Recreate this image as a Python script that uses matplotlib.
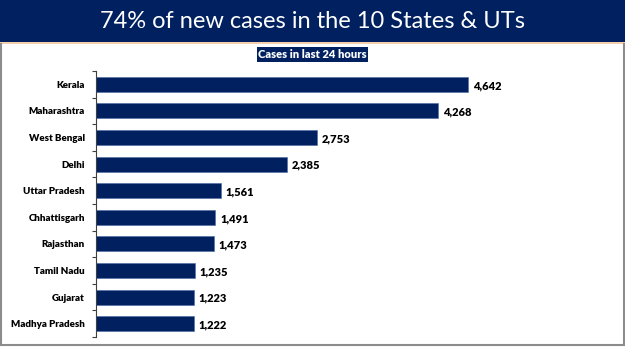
import matplotlib
matplotlib.use("Agg")
import matplotlib.pyplot as plt
from matplotlib.patches import Rectangle
from matplotlib.lines import Line2D
import numpy as np

states = ["Kerala", "Maharashtra", "West Bengal", "Delhi", "Uttar Pradesh",
          "Chhattisgarh", "Rajasthan", "Tamil Nadu", "Gujarat", "Madhya Pradesh"]
cases = [4642, 4268, 2753, 2385, 1561, 1491, 1473, 1235, 1223, 1222]
title = "74% of new cases in the 10 States & UTs"
subtitle = "Cases in last 24 hours"

NAVY = "#002060"
W, H = 625, 351
fig = plt.figure(figsize=(W / 100, H / 100), dpi=100)
fig.patch.set_facecolor("white")

# Title banner
fig.add_artist(Rectangle((0, 1 - 42 / H), 1, 42 / H, transform=fig.transFigure,
                         facecolor=NAVY, edgecolor="none", zorder=0))
fig.add_artist(Line2D([0, 1], [1 - 43 / H, 1 - 43 / H], transform=fig.transFigure,
                      color="#f4c7a0", lw=1.2))
fig.text(0.5, 1 - 21 / H, title, color="white", fontsize=17, family="Lato",
         ha="center", va="center")

# Border frame
fig.add_artist(Line2D([1 / W, 1 / W], [1 - 44 / H, 1 - 345 / H], transform=fig.transFigure,
                      color="#8c8c8c", lw=1.5))
fig.add_artist(Line2D([623.5 / W, 623.5 / W], [1 - 44 / H, 1 - 345 / H], transform=fig.transFigure,
                      color="#8c8c8c", lw=1.5))
fig.add_artist(Line2D([1 / W, 623.5 / W], [1 - 345 / H, 1 - 345 / H], transform=fig.transFigure,
                      color="#8c8c8c", lw=1.5))

# Subtitle box
fig.add_artist(Rectangle((257 / W, 1 - 62 / H), 111 / W, 15 / H, transform=fig.transFigure,
                         facecolor=NAVY, edgecolor="none"))
fig.text(312.5 / W, 1 - 54.5 / H, subtitle, color="white", fontsize=8, family="Lato",
         fontweight="heavy", ha="center", va="center")

# Axes
ax_left, ax_top, ax_bottom = 96, 71, 337
xmax = 5800
ax_w = xmax * (372 / 4642)
ax = fig.add_axes([ax_left / W, 1 - ax_bottom / H, ax_w / W, (ax_bottom - ax_top) / H])
y = np.arange(len(states))
ax.barh(y, cases, height=0.56, color=NAVY, edgecolor="#4a6aa5", linewidth=0.4)
ax.set_ylim(len(states) - 0.5, -0.5)
ax.set_xlim(0, xmax)
for yi, v in zip(y, cases):
    ax.text(v + 60, yi + 0.05, f"{v:,}", va="center", ha="left", fontsize=8,
            fontweight="heavy", family="Lato", color="black")
ax.set_yticks(y)
ax.set_yticklabels(states, fontsize=7, fontweight="heavy", family="Lato")
ax.tick_params(axis="y", which="major", length=0, pad=8)
ax.set_yticks(np.arange(-0.5, len(states)), minor=True)
ax.tick_params(axis="y", which="minor", length=3, width=0.8, color="#404040")
ax.set_xticks([])
for s in ["top", "right", "bottom"]:
    ax.spines[s].set_visible(False)
ax.spines["left"].set_color("#404040")
ax.spines["left"].set_linewidth(0.8)
ax.set_facecolor("none")

fig.savefig("out.png", dpi=100)
